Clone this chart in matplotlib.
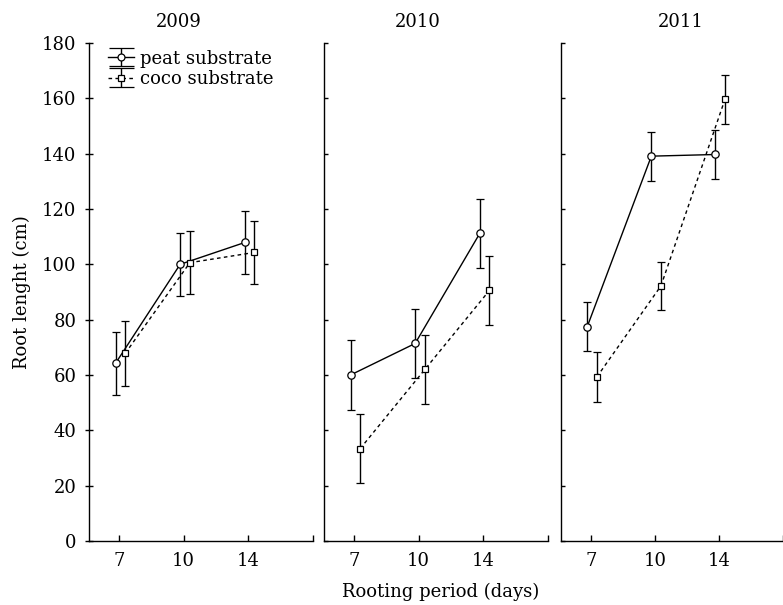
import matplotlib
matplotlib.use("Agg")
import matplotlib.pyplot as plt
import numpy as np

plt.rcParams['font.family'] = ['DejaVu Serif']

years = ["2009", "2010", "2011"]
days = ["7", "10", "14"]

peat_mean = {"2009": [64.2, 100.0, 107.9],
             "2010": [60.0, 71.4, 111.2],
             "2011": [77.5, 139.1, 139.7]}
peat_err = {"2009": [11.5, 11.5, 11.5],
            "2010": [12.6, 12.6, 12.5],
            "2011": [8.8, 8.8, 9.0]}
coco_mean = {"2009": [67.8, 100.6, 104.3],
             "2010": [33.4, 62.0, 90.6],
             "2011": [59.3, 92.2, 159.7]}
coco_err = {"2009": [11.6, 11.4, 11.3],
            "2010": [12.4, 12.5, 12.5],
            "2011": [9.0, 8.8, 8.8]}

yticks = list(range(0, 181, 20))

W, H = 783, 605
fig = plt.figure(figsize=(W / 100, H / 100), dpi=100)

lefts = [89, 324, 561]
widths = [224, 224, 222]
bottom = 64
height = 498
title_x = [0.40, 0.42, 0.54]

pos = np.arange(len(days))
fs = 13
dash = (0, (2.6, 2.4))

for i, yr in enumerate(years):
    ax = fig.add_axes([lefts[i] / W, bottom / H, widths[i] / W, height / H])
    xp = pos - 0.055
    xc = pos + 0.095
    ax.errorbar(xp, peat_mean[yr], yerr=peat_err[yr], color='black', lw=1.0,
                marker='o', ms=5.3, mfc='white', mec='black', mew=0.9,
                capsize=3, capthick=1.0, elinewidth=1.0, ls='-', zorder=3)
    ax.errorbar(xc, coco_mean[yr], yerr=coco_err[yr], color='black', lw=1.0,
                marker='s', ms=5, mfc='white', mec='black', mew=0.9,
                capsize=3, capthick=1.0, elinewidth=1.0, ls=dash, zorder=3)
    ax.set_xlim(-0.465, 3.0)
    ax.set_ylim(0, 180)
    ax.set_xticks(pos)
    ax.set_xticks([3.0], minor=True)
    ax.set_xticklabels(days, fontsize=fs)
    ax.set_yticks(yticks)
    for s in ['top', 'right']:
        ax.spines[s].set_visible(False)
    for s in ['left', 'bottom']:
        ax.spines[s].set_linewidth(1.0)
    ax.tick_params(axis='x', which='both', direction='in', length=4, width=1.0, pad=8)
    if i == 0:
        ax.set_yticklabels([str(v) for v in yticks], fontsize=fs)
        ax.tick_params(axis='y', direction='inout', length=6, width=1.0, pad=6)
        ax.set_ylabel("Root lenght (cm)", fontsize=fs, labelpad=8)
        h1 = ax.errorbar([np.nan], [np.nan], yerr=[1], color='black', lw=1.0,
                         marker='o', ms=5, mfc='white', mec='black', mew=0.9,
                         capsize=9, capthick=1.0, elinewidth=1.0, ls='-',
                         label='peat substrate')
        h2 = ax.errorbar([np.nan], [np.nan], yerr=[1], color='black', lw=1.0,
                         marker='s', ms=4.5, mfc='white', mec='black', mew=0.9,
                         capsize=9, capthick=1.0, elinewidth=1.0, ls=dash,
                         label='coco substrate')
        ax.legend(handles=[h1, h2], loc='upper left', bbox_to_anchor=(0.03, 1.012),
                  frameon=False, fontsize=fs, handlelength=1.4,
                  handletextpad=0.35, labelspacing=0.12, borderpad=0.2)
    else:
        ax.set_yticklabels([])
        ax.tick_params(axis='y', direction='in', length=3, width=1.0)
    ax.text(title_x[i], 1.042, yr, transform=ax.transAxes, ha='center',
            va='center', fontsize=fs)

fig.text(441 / W, 1 - 592 / H, "Rooting period (days)", ha='center',
         va='center', fontsize=fs)

fig.savefig("out.png", dpi=100)
